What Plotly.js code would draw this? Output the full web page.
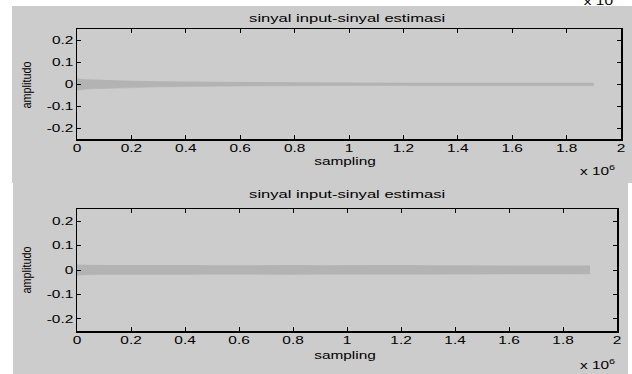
<!DOCTYPE html>
<html>
<head>
<meta charset="utf-8">
<script src="https://cdn.plot.ly/plotly-3.0.1.min.js"></script>
<style>html,body{margin:0;padding:0;background:#fff;}#chart{width:632px;height:374px;}</style>
</head>
<body>
<div id="chart"></div>
<script>
// ---- data (envelope of the plotted signals) ----
var sampleTop = [0, 10000, 30000, 60000, 100000, 150000, 200000, 250000, 300000, 350000, 400000, 500000, 600000, 700000, 800000, 900000, 1000000, 1200000, 1400000, 1600000, 1800000, 1900000];
var upperTop  = [0.026, 0.024, 0.022, 0.020, 0.018, 0.017, 0.015, 0.014, 0.012, 0.012, 0.011, 0.010, 0.009, 0.008, 0.007, 0.007, 0.006, 0.006, 0.006, 0.006, 0.006, 0.006];
var lowerTop  = [-0.028, -0.026, -0.024, -0.022, -0.020, -0.018, -0.016, -0.015, -0.013, -0.012, -0.011, -0.010, -0.009, -0.008, -0.008, -0.007, -0.007, -0.007, -0.007, -0.007, -0.007, -0.007];

var sampleBot = [0, 20000, 100000, 200000, 300000, 400000, 500000, 600000, 700000, 800000, 900000, 1000000, 1100000, 1200000, 1300000, 1400000, 1500000, 1600000, 1700000, 1800000, 1900000];
var upperBot  = [0.024, 0.022, 0.020, 0.021, 0.019, 0.020, 0.019, 0.020, 0.019, 0.020, 0.019, 0.020, 0.019, 0.020, 0.019, 0.019, 0.018, 0.019, 0.018, 0.018, 0.018];
var lowerBot  = [-0.022, -0.020, -0.018, -0.019, -0.018, -0.018, -0.017, -0.018, -0.017, -0.018, -0.017, -0.018, -0.017, -0.017, -0.017, -0.017, -0.016, -0.017, -0.016, -0.016, -0.016];

var xTickVals = [0, 200000, 400000, 600000, 800000, 1000000, 1200000, 1400000, 1600000, 1800000, 2000000];
var xTickText = ['0', '0.2', '0.4', '0.6', '0.8', '1', '1.2', '1.4', '1.6', '1.8', '2'];
var yTickVals = [-0.2, -0.1, 0, 0.1, 0.2];
var yTickText = ['-0.2', '-0.1', '0', '0.1', '0.2'];

var titleText = 'sinyal input-sinyal estimasi';
var xTitleText = 'sampling';
var yTitleText = 'amplitudo';
var exponentText = 'x 10<sup>6</sup>';
var exponentCutText = 'x 10';

// ---- figure ----
var W = 632, H = 374;
function px(x) { return x / W; }
function py(y) { return 1 - y / H; }

var bandColor = '#b3b3b3';
function band(xs, up, lo, xa, ya) {
  return [
    {x: xs, y: up, xaxis: xa, yaxis: ya, mode: 'lines', line: {width: 0, color: bandColor}, hoverinfo: 'skip', showlegend: false},
    {x: xs, y: lo, xaxis: xa, yaxis: ya, mode: 'lines', line: {width: 0.5, color: bandColor}, fill: 'tonexty', fillcolor: bandColor, hoverinfo: 'skip', showlegend: false}
  ];
}
var traces = band(sampleTop, upperTop, lowerTop, 'x', 'y').concat(band(sampleBot, upperBot, lowerBot, 'x2', 'y2'));

var FONT = 'Liberation Sans, Arial, Helvetica, sans-serif';
var tickFont = {family: FONT, size: 11, color: '#000'};
function xAxis(domain, anchor) {
  return {domain: domain, anchor: anchor, range: [0, 2000000], tickvals: xTickVals, ticktext: xTickText,
    showline: true, linecolor: '#000', linewidth: 1.5, mirror: 'ticks', ticks: 'inside', ticklen: 4, tickcolor: '#000',
    showgrid: false, zeroline: false, tickfont: tickFont, ticklabelstandoff: -2, fixedrange: true};
}
function yAxis(domain, anchor) {
  return {domain: domain, anchor: anchor, range: [-0.25, 0.25], tickvals: yTickVals, ticktext: yTickText,
    showline: true, linecolor: '#000', linewidth: 1.5, mirror: 'ticks', ticks: 'inside', ticklen: 4, tickcolor: '#000',
    showgrid: false, zeroline: false, tickfont: tickFont, fixedrange: true};
}

var txtFont = {family: FONT, size: 11, color: '#000'};
var rotFont = {family: FONT, size: 12, color: '#000'};
function ann(text, x, y, font, extra) {
  var a = {text: text, xref: 'paper', yref: 'paper', x: px(x), y: py(y), xanchor: 'center', yanchor: 'middle', showarrow: false, font: font};
  for (var k in extra) a[k] = extra[k];
  return a;
}

var layout = {
  width: W, height: H,
  margin: {l: 0, r: 0, t: 0, b: 0},
  paper_bgcolor: '#ffffff',
  plot_bgcolor: '#ffffff',
  showlegend: false,
  xaxis: xAxis([px(77), px(621)], 'y'),
  yaxis: yAxis([py(139), py(29)], 'x'),
  xaxis2: xAxis([px(77), px(617)], 'y2'),
  yaxis2: yAxis([py(331), py(209)], 'x2'),
  shapes: [
    {type: 'rect', xref: 'paper', yref: 'paper', x0: px(12), x1: px(632), y0: py(183), y1: py(6), fillcolor: '#cccccc', line: {width: 0}, layer: 'below'},
    {type: 'rect', xref: 'paper', yref: 'paper', x0: px(13), x1: px(628), y0: py(374), y1: py(183), fillcolor: '#cccccc', line: {width: 0}, layer: 'below'}
  ],
  annotations: [
    ann(titleText, 347, 18, txtFont),
    ann(xTitleText, 345, 161, txtFont),
    ann(yTitleText, 27, 85, rotFont, {textangle: -90}),
    ann(exponentText, 597, 170, txtFont),
    ann(exponentCutText, 598, 1, txtFont),
    ann(titleText, 347, 194, txtFont),
    ann(xTitleText, 345, 355, txtFont),
    ann(yTitleText, 27, 270, rotFont, {textangle: -90}),
    ann(exponentText, 597, 364, txtFont)
  ]
};

// The reference figure is stretched horizontally (~1.4x); reproduce this on the real text glyphs.
function stretchTexts(gd) {
  var texts = gd.querySelectorAll('svg text');
  texts.forEach(function (t) {
    var len = t.getComputedTextLength();
    if (!len) return;
    var content = t.textContent;
    var target = len * 1.4;
    if (content === yTitleText) target = 47;
    else if (content === titleText) target = 196;
    t.setAttribute('textLength', target.toFixed(1));
    t.setAttribute('lengthAdjust', 'spacingAndGlyphs');
  });
}

Plotly.newPlot('chart', traces, layout, {staticPlot: true, displayModeBar: false}).then(function (gd) {
  stretchTexts(gd);
});
</script>
</body>
</html>
